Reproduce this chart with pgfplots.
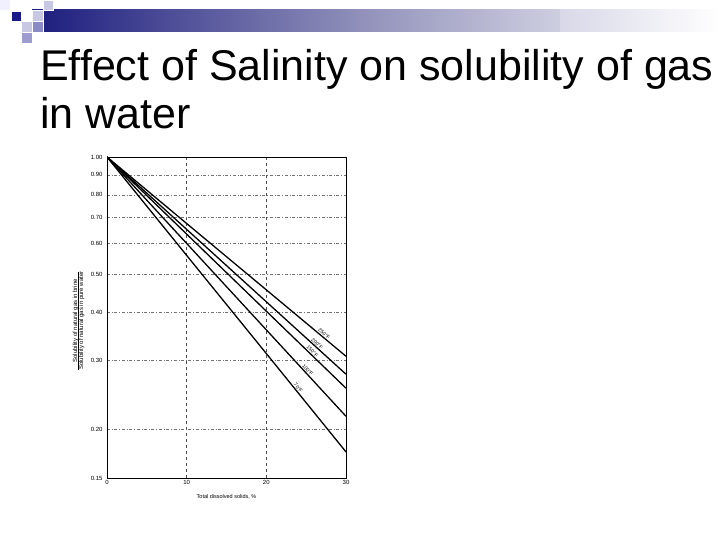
\documentclass[border=0pt]{standalone}
\usepackage{pgfplots}
\pgfplotsset{compat=1.18}
\usepackage{fontspec}
\setmainfont{Liberation Sans}
\definecolor{navysq}{HTML}{1A1A88}
\definecolor{lav}{HTML}{C8C8E4}
\definecolor{midlav}{HTML}{8A8AC6}
\definecolor{barleft}{HTML}{1C1C7E}
\begin{document}
\begin{tikzpicture}
\useasboundingbox (0,0) rectangle (720pt,540pt);
% slide decoration
\shade[left color=barleft, right color=white, middle color=black!10!lav!80!barleft] (32pt,508pt) rectangle (720pt,530pt);
\fill[white] (560pt,508pt) rectangle (720pt,530pt);
\shade[left color=black!5!lav!60!white, right color=white] (560pt,508pt) rectangle (720pt,530pt);
\fill[black!4!blue!6!white] (0pt,530pt) rectangle (10pt,540pt);
\fill[navysq, draw=white, line width=0.6pt] (11pt,519pt) rectangle (21pt,529pt);
\fill[lav, draw=white, line width=0.6pt] (43pt,530pt) rectangle (53pt,540pt);
\fill[lav, draw=white, line width=0.6pt] (32pt,519pt) rectangle (43pt,530pt);
\fill[lav, draw=white, line width=0.6pt] (21pt,508pt) rectangle (32pt,519pt);
\fill[midlav, draw=white, line width=0.6pt] (32pt,508pt) rectangle (43pt,519pt);
\fill[midlav!85!white, draw=white, line width=0.6pt] (21pt,497pt) rectangle (32pt,508pt);
% title
\node[anchor=base west, inner sep=0pt, font=\fontsize{43}{48}\selectfont] at (40pt,459pt) {Effect of Salinity on solubility of gas};
\node[anchor=base west, inner sep=0pt, font=\fontsize{43}{48}\selectfont] at (40pt,411pt) {in water};
% chart
\begin{axis}[
  at={(107pt,62pt)}, anchor=south west,
  scale only axis, width=239pt, height=321pt,
  xmin=0, xmax=30, ymin=0.15, ymax=1.0,
  ymode=log,
  xtick={0,10,20,30},
  ytick={0.15,0.2,0.3,0.4,0.5,0.6,0.7,0.8,0.9,1.0},
  yticklabels={0.15,0.20,0.30,0.40,0.50,0.60,0.70,0.80,0.90,1.00},
  log ticks with fixed point,
  minor ytick={},
  major tick length=0pt,
  axis line style={black, line width=0.9pt},
  grid=major,
  x grid style={black!70, dashed, line width=0.6pt},
  y grid style={black!55, dash dot, line width=0.5pt},
  /pgf/number format/assume math mode=true,
  ticklabel style={font=\fontsize{6}{7}\selectfont},
  yticklabel style={xshift=-1pt},
  xticklabel style={yshift=1pt},
  xlabel={Total dissolved solids, \%},
  xlabel style={font=\fontsize{5.5}{6}\selectfont, at={(axis description cs:0.5,-0.04)}, anchor=north},
  ylabel={\begin{tabular}{@{}c@{}}Solubility of natural gas in brine\\[-1pt]\hline Solubility of natural gas in pure water\end{tabular}},
  ylabel style={font=\fontsize{6}{6.5}\selectfont, at={(axis description cs:-0.118,0.49)}, anchor=center, rotate=0},
  every node near coord/.append style={font=\fontsize{5}{5.5}\selectfont},
]
\addplot[black, line width=1.3pt] coordinates {(0,1.0) (10,0.675) (20,0.456) (30,0.308)}
  node[pos=0.9, above, sloped, font=\fontsize{5}{5.5}\selectfont, inner sep=0.8pt] {250°F};
\addplot[black, line width=1.3pt] coordinates {(0,1.0) (10,0.652) (20,0.425) (30,0.277)}
  node[pos=0.87, above, sloped, font=\fontsize{5}{5.5}\selectfont, inner sep=0.8pt] {200°F};
\addplot[black, line width=1.3pt] coordinates {(0,1.0) (10,0.634) (20,0.402) (30,0.255)}
  node[pos=0.85, above, sloped, font=\fontsize{5}{5.5}\selectfont, inner sep=0.8pt] {150°F};
\addplot[black, line width=1.3pt] coordinates {(0,1.0) (10,0.600) (20,0.360) (30,0.216)}
  node[pos=0.83, above, sloped, font=\fontsize{5}{5.5}\selectfont, inner sep=0.8pt] {100°F};
\addplot[black, line width=1.3pt] coordinates {(0,1.0) (10,0.559) (20,0.313) (30,0.175)}
  node[pos=0.79, above, sloped, font=\fontsize{5}{5.5}\selectfont, inner sep=0.8pt] {70°F};
\end{axis}
\end{tikzpicture}
\end{document}
